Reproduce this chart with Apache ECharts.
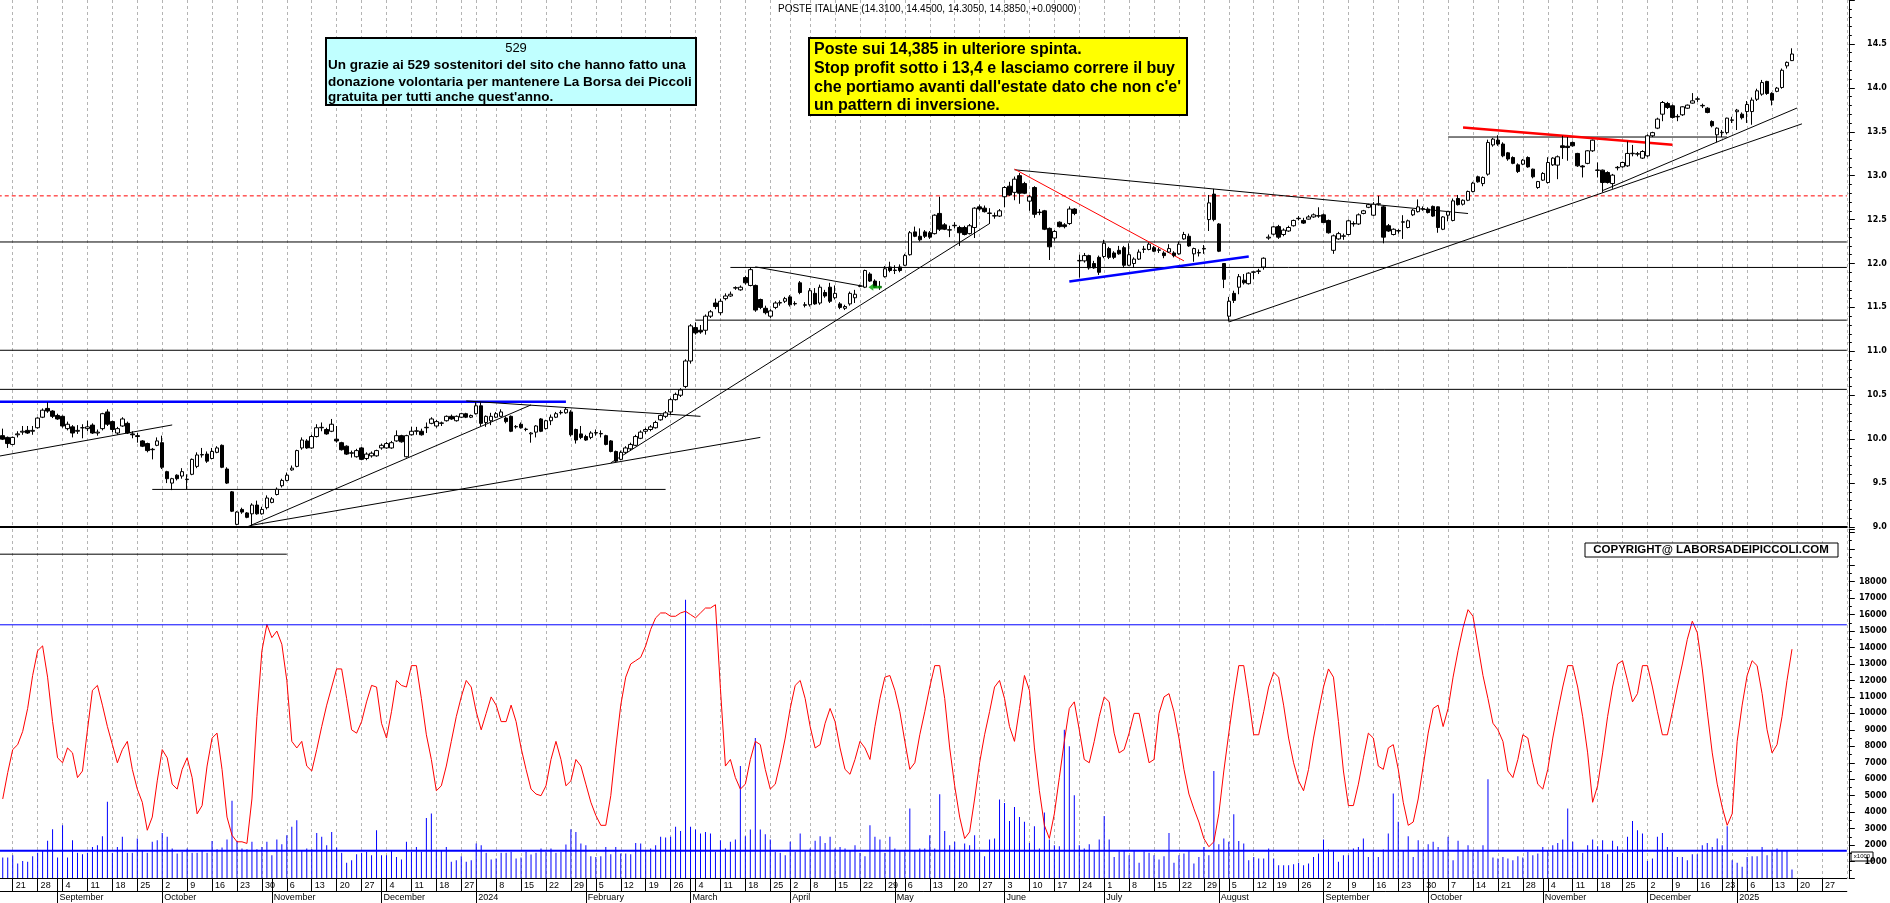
<!DOCTYPE html>
<html><head><meta charset="utf-8">
<script src="https://cdn.jsdelivr.net/npm/echarts@6/dist/echarts.min.js"></script>
<style>html,body{margin:0;padding:0;background:#fff;overflow:hidden}#c{width:1890px;height:903px}</style>
</head><body><div id="c"></div>
<script>
// ---------- calendar (trading days) ----------
const startDate = '2023-08-16';
const endDate = '2025-02-03';
const firstCandleDate = '2023-08-17';
const holidays = ['2023-12-25','2023-12-26','2024-01-01','2024-03-29','2024-04-01','2024-05-01','2024-08-15','2024-12-24','2024-12-25','2024-12-26','2024-12-31','2025-01-01'];
const hiddenWeekLabels = ['2024-01-02','2024-12-30','2025-02-03'];
const hiddenMonthLabels = ['2025-02-03'];
const monthNames = ['January','February','March','April','May','June','July','August','September','October','November','December'];

// ---------- daily candles [open, high, low, close] ----------
const candles = [
[10.04,10.12,9.99,10.00],[10.02,10.03,9.90,9.95],[9.94,10.03,9.93,10.02],[10.05,10.09,10.02,10.06],[10.08,10.15,10.05,10.09],
[10.10,10.15,10.06,10.07],[10.09,10.15,10.05,10.10],[10.13,10.25,10.12,10.24],[10.25,10.35,10.24,10.33],[10.35,10.42,10.30,10.32],
[10.32,10.33,10.24,10.26],[10.27,10.29,10.22,10.23],[10.26,10.27,10.13,10.15],[10.12,10.20,10.10,10.17],[10.14,10.16,10.02,10.07],
[10.09,10.16,10.06,10.10],[10.13,10.17,10.01,10.13],[10.12,10.21,10.09,10.14],[10.16,10.18,10.06,10.07],[10.07,10.11,10.04,10.08],
[10.12,10.30,10.10,10.29],[10.31,10.34,10.15,10.17],[10.20,10.21,10.08,10.11],[10.07,10.14,10.05,10.12],[10.15,10.25,10.14,10.23],
[10.18,10.20,10.06,10.07],[10.06,10.09,10.01,10.05],[10.04,10.07,9.96,10.03],[9.98,9.99,9.91,9.92],[9.95,9.96,9.85,9.87],
[9.88,9.90,9.77,9.885],[9.93,10.02,9.92,9.98],[9.96,10.04,9.66,9.68],[9.63,9.64,9.50,9.55],[9.50,9.56,9.42,9.55],
[9.59,9.60,9.53,9.55],[9.58,9.67,9.55,9.63],[9.54,9.60,9.43,9.545],[9.60,9.78,9.59,9.77],[9.69,9.85,9.67,9.82],
[9.82,9.90,9.79,9.825],[9.83,9.86,9.73,9.75],[9.78,9.90,9.77,9.86],[9.85,9.92,9.84,9.90],[9.93,9.94,9.67,9.68],
[9.66,9.68,9.49,9.50],[9.40,9.41,9.17,9.18],[9.03,9.18,9.02,9.17],[9.20,9.22,9.15,9.17],[9.16,9.17,9.10,9.11],
[9.15,9.27,9.01,9.25],[9.25,9.30,9.14,9.15],[9.15,9.23,9.14,9.20],[9.22,9.36,9.20,9.33],[9.28,9.34,9.27,9.32],
[9.37,9.45,9.36,9.43],[9.47,9.55,9.45,9.53],[9.53,9.62,9.52,9.59],[9.65,9.70,9.64,9.67],[9.69,9.88,9.68,9.87],
[9.90,10.02,9.88,9.99],[9.98,10.00,9.89,9.90],[9.90,10.05,9.89,10.03],[10.03,10.17,10.02,10.13],[10.13,10.19,10.09,10.135],
[10.11,10.13,10.05,10.06],[10.09,10.23,10.08,10.17],[10.00,10.15,9.96,9.98],[9.96,9.97,9.87,9.88],[9.92,9.93,9.82,9.83],
[9.84,9.87,9.79,9.845],[9.80,9.89,9.79,9.87],[9.90,9.91,9.76,9.77],[9.78,9.85,9.76,9.83],[9.81,9.86,9.79,9.84],
[9.81,9.88,9.80,9.87],[9.90,9.95,9.88,9.93],[9.90,9.97,9.89,9.95],[9.90,9.98,9.89,9.96],[9.98,10.10,9.97,10.04],
[10.04,10.05,9.96,9.97],[9.80,10.05,9.79,10.04],[10.05,10.14,10.04,10.09],[10.09,10.14,10.05,10.095],[10.09,10.12,10.04,10.05],
[10.13,10.19,10.07,10.135],[10.18,10.25,10.17,10.23],[10.15,10.22,10.13,10.20],[10.18,10.20,10.15,10.185],[10.21,10.27,10.20,10.26],
[10.26,10.28,10.22,10.23],[10.21,10.27,10.20,10.26],[10.25,10.30,10.24,10.29],[10.29,10.30,10.24,10.25],[10.25,10.28,10.24,10.27],
[10.29,10.42,10.28,10.38],[10.38,10.42,10.15,10.18],[10.19,10.27,10.14,10.26],[10.21,10.30,10.16,10.26],[10.25,10.31,10.24,10.29],
[10.26,10.34,10.25,10.31],[10.24,10.26,10.18,10.20],[10.26,10.27,10.08,10.09],[10.14,10.16,10.12,10.145],[10.17,10.19,10.12,10.13],
[10.11,10.13,10.09,10.115],[10.06,10.08,9.96,10.07],[10.08,10.16,10.02,10.15],[10.23,10.24,10.08,10.09],[10.12,10.22,10.11,10.21],
[10.21,10.28,10.16,10.25],[10.25,10.31,10.24,10.29],[10.30,10.33,10.28,10.305],[10.30,10.36,10.29,10.34],[10.31,10.33,10.03,10.05],
[10.11,10.12,9.95,9.99],[10.06,10.15,10.00,10.02],[10.03,10.05,9.98,9.99],[10.02,10.09,10.00,10.07],[10.07,10.11,10.04,10.075],
[10.06,10.10,10.02,10.065],[10.04,10.05,9.93,9.94],[9.98,9.99,9.85,9.86],[9.86,9.87,9.74,9.75],[9.77,9.87,9.76,9.85],
[9.85,9.92,9.83,9.90],[9.89,9.96,9.87,9.94],[9.93,10.05,9.92,10.03],[10.01,10.10,10.00,10.08],[10.09,10.13,10.06,10.11],
[10.11,10.16,10.09,10.14],[10.13,10.21,10.12,10.19],[10.22,10.28,10.21,10.27],[10.26,10.32,10.24,10.30],[10.31,10.47,10.28,10.45],
[10.45,10.53,10.44,10.51],[10.50,10.58,10.48,10.56],[10.60,10.91,10.58,10.89],[10.89,11.31,10.86,11.29],[11.27,11.33,11.19,11.21],
[11.24,11.30,11.20,11.22],[11.24,11.42,11.19,11.40],[11.40,11.47,11.38,11.45],[11.55,11.60,11.48,11.51],[11.44,11.60,11.41,11.57],
[11.60,11.66,11.58,11.63],[11.63,11.68,11.62,11.65],[11.72,11.74,11.70,11.725],[11.70,11.75,11.69,11.73],[11.84,11.86,11.76,11.78],
[11.75,11.96,11.74,11.93],[11.75,11.76,11.45,11.47],[11.59,11.60,11.48,11.50],[11.49,11.52,11.42,11.44],[11.40,11.48,11.38,11.46],
[11.50,11.57,11.48,11.55],[11.55,11.58,11.52,11.555],[11.57,11.62,11.55,11.60],[11.62,11.64,11.51,11.53],[11.54,11.57,11.52,11.545],
[11.78,11.80,11.65,11.67],[11.53,11.56,11.50,11.525],[11.53,11.72,11.51,11.69],[11.66,11.72,11.53,11.54],[11.55,11.76,11.53,11.73],
[11.67,11.70,11.61,11.63],[11.73,11.78,11.55,11.57],[11.61,11.75,11.59,11.66],[11.54,11.56,11.48,11.50],[11.49,11.53,11.47,11.51],
[11.54,11.68,11.52,11.66],[11.61,11.70,11.55,11.65],[11.74,11.76,11.73,11.745],[11.73,11.93,11.72,11.92],[11.88,11.90,11.79,11.80],
[11.80,11.82,11.72,11.73],[11.73,11.80,11.70,11.735],[11.85,11.97,11.84,11.94],[11.96,12.02,11.90,11.92],[11.92,11.98,11.88,11.925],
[11.96,11.99,11.90,11.92],[11.98,12.11,11.97,12.09],[12.10,12.37,12.09,12.35],[12.36,12.42,12.30,12.31],[12.31,12.40,12.25,12.27],
[12.36,12.38,12.29,12.31],[12.35,12.37,12.28,12.30],[12.34,12.56,12.33,12.55],[12.57,12.76,12.37,12.39],[12.44,12.46,12.38,12.39],
[12.38,12.43,12.30,12.385],[12.43,12.47,12.40,12.435],[12.41,12.43,12.20,12.35],[12.41,12.43,12.32,12.33],[12.34,12.45,12.33,12.43],
[12.41,12.64,12.29,12.63],[12.645,12.67,12.60,12.62],[12.63,12.66,12.58,12.59],[12.57,12.63,12.45,12.575],[12.54,12.58,12.51,12.545],
[12.54,12.62,12.53,12.60],[12.76,12.88,12.64,12.865],[12.88,12.93,12.77,12.78],[12.81,12.99,12.72,12.96],[13.00,13.03,12.68,12.80],
[12.91,12.93,12.79,12.80],[12.71,12.78,12.60,12.76],[12.865,12.88,12.52,12.56],[12.58,12.62,12.55,12.585],[12.60,12.61,12.38,12.39],
[12.40,12.41,12.04,12.19],[12.29,12.38,12.26,12.365],[12.47,12.48,12.41,12.42],[12.44,12.46,12.40,12.42],[12.455,12.65,12.44,12.62],
[12.62,12.63,12.55,12.57],[12.03,12.10,11.84,12.035],[12.03,12.12,12.01,12.09],[12.09,12.10,11.93,11.95],[12.00,12.03,11.94,11.95],
[12.07,12.09,11.87,11.90],[12.08,12.27,12.06,12.23],[12.17,12.19,12.05,12.07],[12.12,12.14,12.05,12.07],[12.15,12.20,12.10,12.11],
[12.18,12.20,11.95,11.98],[11.98,12.23,11.97,12.10],[12.00,12.07,11.95,12.05],[12.05,12.16,12.04,12.13],[12.16,12.20,12.12,12.165],
[12.16,12.24,12.15,12.22],[12.18,12.20,12.13,12.14],[12.15,12.18,12.12,12.155],[12.12,12.14,12.06,12.09],[12.13,12.22,12.12,12.17],
[12.12,12.14,12.07,12.09],[12.11,12.25,12.10,12.22],[12.28,12.36,12.27,12.33],[12.31,12.34,12.19,12.20],[12.11,12.18,12.02,12.17],
[12.12,12.16,12.08,12.125],[12.17,12.21,12.11,12.165],[12.50,12.78,12.37,12.69],[12.79,12.85,12.48,12.50],[12.45,12.46,12.13,12.14],
[12.00,12.00,11.72,11.82],[11.40,11.62,11.34,11.57],[11.66,11.69,11.55,11.58],[11.73,11.88,11.65,11.85],[11.81,11.88,11.76,11.78],
[11.77,11.90,11.76,11.89],[11.90,11.91,11.82,11.905],[11.91,11.94,11.88,11.915],[11.96,12.07,11.93,12.06],[12.29,12.33,12.27,12.30],
[12.334,12.43,12.32,12.417],[12.42,12.44,12.28,12.30],[12.33,12.40,12.31,12.38],[12.37,12.43,12.36,12.41],[12.43,12.50,12.42,12.49],
[12.51,12.54,12.49,12.515],[12.49,12.52,12.45,12.46],[12.505,12.55,12.50,12.53],[12.53,12.57,12.52,12.554],[12.54,12.64,12.52,12.545],
[12.554,12.57,12.46,12.466],[12.49,12.50,12.34,12.35],[12.15,12.33,12.11,12.315],[12.28,12.36,12.27,12.34],[12.31,12.34,12.27,12.315],
[12.33,12.50,12.32,12.486],[12.45,12.48,12.42,12.455],[12.45,12.57,12.44,12.554],[12.57,12.61,12.56,12.60],[12.64,12.68,12.63,12.67],
[12.55,12.70,12.54,12.675],[12.675,12.77,12.66,12.68],[12.645,12.66,12.23,12.30],[12.43,12.45,12.36,12.37],[12.33,12.40,12.32,12.39],
[12.37,12.39,12.34,12.375],[12.47,12.55,12.28,12.475],[12.41,12.50,12.40,12.486],[12.554,12.62,12.54,12.607],[12.59,12.73,12.58,12.645],
[12.62,12.65,12.60,12.625],[12.62,12.64,12.57,12.58],[12.65,12.66,12.53,12.54],[12.645,12.65,12.35,12.41],[12.39,12.54,12.38,12.53],
[12.55,12.60,12.48,12.59],[12.49,12.74,12.48,12.713],[12.74,12.78,12.66,12.67],[12.675,12.73,12.66,12.72],[12.72,12.83,12.71,12.82],
[12.82,12.93,12.81,12.915],[12.987,13.00,12.92,12.93],[12.91,12.99,12.88,12.98],[13.017,13.41,13.00,13.378],[13.35,13.43,13.33,13.416],
[13.405,13.46,13.34,13.36],[13.36,13.38,13.21,13.226],[13.26,13.27,13.17,13.19],[13.207,13.22,13.13,13.14],[13.123,13.14,13.03,13.047],
[13.131,13.19,13.12,13.177],[13.207,13.22,13.09,13.10],[13.074,13.08,12.97,12.987],[12.865,12.94,12.85,12.933],[12.949,13.04,12.94,13.025],
[12.922,13.21,12.91,13.15],[13.123,13.21,13.11,13.20],[13.12,13.23,12.96,13.215],[13.34,13.454,13.19,13.32],[13.335,13.44,13.17,13.32],
[13.378,13.39,13.33,13.34],[13.253,13.26,13.10,13.112],[13.11,13.12,12.98,13.10],[13.14,13.29,13.13,13.283],[13.283,13.41,13.27,13.404],
[13.06,13.15,12.98,13.065],[13.063,13.07,12.81,12.922],[13.036,13.05,12.91,12.922],[12.91,13.02,12.85,13.006],[13.09,13.11,13.06,13.095],
[13.101,13.16,13.09,13.15],[13.112,13.39,13.10,13.253],[13.25,13.35,13.22,13.255],[13.245,13.27,13.22,13.25],[13.20,13.29,13.19,13.275],
[13.226,13.47,13.21,13.454],[13.454,13.50,13.44,13.49],[13.541,13.66,13.53,13.644],[13.70,13.85,13.62,13.833],[13.822,13.84,13.76,13.776],
[13.796,13.81,13.65,13.663],[13.67,13.70,13.62,13.675],[13.693,13.79,13.68,13.784],[13.768,13.81,13.76,13.803],[13.826,13.94,13.82,13.852],
[13.87,13.90,13.84,13.875],[13.795,13.82,13.77,13.80],[13.768,13.78,13.71,13.72],[13.617,13.63,13.55,13.568],[13.465,13.55,13.38,13.541],
[13.49,13.52,13.44,13.495],[13.49,13.66,13.47,13.655],[13.63,13.67,13.60,13.635],[13.728,13.76,13.52,13.746],[13.70,13.72,13.64,13.66],
[13.73,13.85,13.60,13.81],[13.73,13.89,13.58,13.86],[13.87,13.99,13.85,13.966],[13.928,14.09,13.91,14.06],[14.073,14.08,13.92,13.936],
[13.936,13.95,13.80,13.86],[13.96,14.01,13.95,13.997],[14.004,14.22,13.99,14.20],[14.25,14.30,14.22,14.29],[14.31,14.45,14.305,14.385]
];

// ---------- daily volume (x1000 shares) ----------
const volumes = [
1240,1240,1380,880,1040,980,1320,1530,1690,2260, 2960,1240,3210,1240,2300,1530,1450,1530,1890,1990,
2540,4630,1530,1890,2500,1530,1530,2400,1690,1530, 2200,2300,2740,2500,1790,1490,1590,1790,1530,1530,
1650,1530,2240,1750,1850,2340,4690,2260,1790,1750, 2200,1750,1890,2200,1380,2340,2050,2600,3110,3510,
1690,1790,1750,2740,2500,1990,2800,1850,1530,920, 1080,1450,1530,1590,1380,2900,1380,1380,1690,1280,
1120,2200,1590,1890,1590,3650,3920,1690,1690,1890, 980,1080,1320,980,1080,2090,1990,1530,1120,1180,
1530,1530,1590,1180,1240,1590,1430,1530,1790,1590, 1790,1530,1590,2030,2960,2800,2090,1990,1320,1280,
1320,1890,1450,1890,1490,1490,1450,2130,2090,1650, 1790,1990,2500,2460,2500,3110,2860,16900,3110,2940,
2700,2800,2700,1590,2300,1790,2200,2340,6800,2540, 2940,8500,2940,2660,2340,1590,1530,1380,2200,1590,
2700,1690,1790,2260,2540,2130,2500,1790,1890,1790, 1650,1990,1530,1320,3210,2500,2340,1530,2500,1790,
1650,1690,4220,1690,1790,1790,2600,1790,5090,2860, 1990,2200,1690,2090,1990,2600,1590,1320,2340,2400,
4770,4560,3470,4320,3710,3410,2130,3150,1790,3980, 2340,1990,1930,9000,8000,5030,1990,1790,2050,1690,
2340,3770,2340,1280,1630,1690,1380,1690,920,1630, 1530,1380,1120,1320,2740,920,1380,1490,1650,880,
1280,1890,1380,6500,2050,2400,2200,3880,2240,2090, 1080,1280,1180,1180,1790,1180,780,780,780,840,
920,780,880,1280,1490,2340,1730,1630,980,1380, 1380,1790,1890,2400,1280,1590,1280,1730,2700,5130,
3410,1690,2540,1280,2300,1730,2050,2200,1890,1690, 2500,1080,2260,1650,1990,1690,1690,1990,6000,1240,
1180,1280,1180,1080,1320,1240,1590,1380,1490,1890, 1690,1990,2130,2340,4220,2200,1590,1530,1990,2340,
1930,2300,1450,2260,1930,1530,2500,3470,2900,2700, 1040,1180,2500,2740,1890,1590,1280,1280,1080,1450,
1450,1990,2130,1890,2400,1990,3150,1080,920,680, 1280,1320,1320,1890,1380,1690,1790,1690,1690,510
];

// ---------- red oscillator line (same x1000 scale) ----------
const oscillator = [
4800,6400,7800,8100,8900,10300,12300,13800,14100,12200, 9500,7300,7000,7900,7600,6100,6500,9000,11400,11700,
10500,9200,8100,7000,7800,8300,6600,5400,4600,2900, 3700,5900,7800,7300,5700,5400,6600,7300,6100,3900,
4400,6800,8500,8800,6600,3700,2600,2200,2200,2100, 4800,9800,13800,15400,14600,15000,14200,12000,8300,7900,
8300,6800,6500,7800,9200,10500,11600,12700,12700,10900, 9000,8800,9500,10700,11700,11600,9400,8500,10100,12000,
11700,11600,12900,12900,10900,8700,7200,5300,5600,6800, 8300,9800,11000,12000,11600,10100,9000,10000,11000,10500,
9500,9500,10500,9500,7900,6600,5400,5100,5000,5600, 7200,8300,7200,5600,5900,7200,6800,5700,4600,3800,
3200,3200,5000,7900,10500,12200,13000,13200,13400,14100, 15100,15800,16100,16100,15900,15900,16100,16200,16000,15800,
16100,16400,16400,16600,11500,6800,7200,6100,5400,5700, 7200,8300,8100,6600,5400,5700,7000,8500,10300,11700,
12000,10900,9200,7900,8100,9400,10300,9500,7900,6600, 6300,7200,8300,7900,7200,9200,10900,12200,12300,11400,
10100,8300,6600,7000,8700,10100,11600,12900,12900,10900, 7900,5600,3700,2400,2800,4800,7000,8700,10100,11600,
12000,10900,9200,8300,10300,12300,11400,7900,5300,3200, 2400,3900,6100,8300,10300,10700,9000,7200,7000,8300,
9800,11000,10700,8800,7600,7800,8800,10000,10000,8500, 7000,7200,10000,11000,11200,10100,8500,6600,5100,4200,
3400,2400,1900,2200,3900,6500,8800,11000,12900,12900, 10900,8700,8700,10100,11600,12500,12200,10500,8500,7000,
5900,5300,6600,8500,10100,11600,12700,12200,9500,6500, 4400,4400,5700,7300,8800,8500,6800,6600,7900,8100,
6600,4600,3200,3400,4800,6800,8800,10300,10500,9200, 10300,12200,13800,15200,16300,15900,14100,12300,10900,9400,
9000,8300,6500,6100,7200,8700,8500,7000,5700,5400, 6600,8500,10100,11600,12900,12900,11600,9800,7600,4600,
5600,7600,9800,11600,13000,13200,12000,10700,11200,12900, 12900,11600,10100,8700,8700,10100,11600,13000,14500,15600,
14900,12700,10100,7600,5700,4300,3200,3900,8300,10500, 12300,13200,12900,11200,9000,7600,8100,9800,12000,13900
];

// ---------- axis ticks ----------
const priceTicks = {min: 9, max: 15, step: 0.5};
const volumeTicks = {min: 0, max: 21200, step: 1000, lastLabel: 18000};

// ---------- drawn horizontal levels [startDate, endDate, price, color, width, dashed] ----------
const priceLevels = [
  ['2023-08-16','2025-02-03',12.77,'#ff0000',1,true],
  ['2023-08-16','2025-02-03',12.245,'#000000',1,false],
  ['2024-03-13','2025-02-03',11.955,'#000000',1,false],
  ['2024-03-04','2025-02-03',11.355,'#000000',1,false],
  ['2023-08-16','2025-02-03',11.012,'#000000',1,false],
  ['2023-08-16','2025-02-03',10.567,'#000000',1,false],
  ['2023-08-16','2024-01-26',10.427,'#0000ff',2.5,false],
  ['2023-09-28','2024-02-23',9.428,'#000000',1,false],
  ['2024-10-07','2024-12-27',13.44,'#000000',1,false]
];
// ---------- drawn trend lines [date1, price1, date2, price2, color, width] ----------
const trendLines = [
  ['2023-08-16',9.804,'2023-10-04',10.162,'#000000',1],
  ['2023-10-25',9.00,'2024-01-17',10.39,'#000000',1],
  ['2023-10-26',9.02,'2024-03-21',10.02,'#000000',1],
  ['2023-12-28',10.435,'2024-03-05',10.26,'#000000',1],
  ['2024-02-08',9.73,'2024-05-29',12.455,'#000000',1],
  ['2024-03-20',11.962,'2024-04-23',11.737,'#000000',1],
  ['2024-06-05',13.067,'2024-10-11',12.569,'#000000',1],
  ['2024-06-05',13.075,'2024-07-23',12.03,'#ff0000',1],
  ['2024-06-20',11.794,'2024-08-09',12.079,'#0000ff',2.5],
  ['2024-08-05',11.334,'2025-01-21',13.59,'#000000',1],
  ['2024-11-19',12.83,'2025-01-20',13.77,'#000000',1],
  ['2024-10-10',13.549,'2024-12-09',13.352,'#ff0000',2.5]
];
const volumeLevels = [
  ['2023-08-16','2025-02-03',15380,'#0000ff',1],
  ['2023-08-16','2025-02-03',1650,'#0000ff',2],
  ['2023-08-16','2023-11-06',19670,'#000000',1]
];
const arrowMark = ['2024-04-25', 11.73];

// ---------- build categories ----------
function tradingDays(){
  const out = [];
  const d = new Date(startDate + 'T00:00:00Z');
  const end = new Date(endDate + 'T00:00:00Z');
  while (d <= end) {
    const wd = d.getUTCDay();
    const s = d.toISOString().slice(0,10);
    if (wd !== 0 && wd !== 6 && holidays.indexOf(s) < 0) out.push(s);
    d.setUTCDate(d.getUTCDate() + 1);
  }
  return out;
}
const days = tradingDays();
const idx = s => days.indexOf(s);
const weekStart = new Set(), monthStart = new Set();
for (let k = 1; k < days.length; k++) {
  const a = new Date(days[k-1] + 'T00:00:00Z'), b = new Date(days[k] + 'T00:00:00Z');
  if (b.getUTCDay() <= a.getUTCDay() || (b - a) >= 7*864e5) weekStart.add(k);
  if (days[k].slice(5,7) !== days[k-1].slice(5,7)) monthStart.add(k);
}
const off = idx(firstCandleDate);
const candleData = days.map((_, k) => {
  const c = candles[k - off];
  return c ? [c[0], c[3], c[2], c[1]] : '-';
});
const volData = days.map((_, k) => (k >= off && volumes[k - off] !== undefined) ? volumes[k - off] : '-');
const oscData = days.map((_, k) => (k >= off && oscillator[k - off] !== undefined) ? oscillator[k - off] : '-');

const series = [];
series.push({
  type: 'candlestick', xAxisIndex: 0, yAxisIndex: 0, data: candleData, barWidth: 4, z: 5,
  itemStyle: {color: '#ffffff', color0: '#000000', borderColor: '#000000', borderColor0: '#000000', borderWidth: 1}
});
priceLevels.forEach(l => series.push({
  type: 'line', xAxisIndex: 0, yAxisIndex: 0, symbol: 'none', silent: true, z: 3,
  data: [[idx(l[0]), l[2]], [idx(l[1]), l[2]]],
  lineStyle: {color: l[3], width: l[4], type: l[5] ? [4,3] : 'solid'}
}));
trendLines.forEach(l => series.push({
  type: 'line', xAxisIndex: 0, yAxisIndex: 0, symbol: 'none', silent: true, z: 4,
  data: [[idx(l[0]), l[1]], [idx(l[2]), l[3]]],
  lineStyle: {color: l[4], width: l[5]}
}));
series.push({
  type: 'scatter', xAxisIndex: 0, yAxisIndex: 0, silent: true, z: 6,
  symbol: 'path://M0,5 L6,0 L6,3 L16,3 L16,7 L6,7 L6,10 Z', symbolSize: [13, 7],
  itemStyle: {color: '#00a000'}, data: [[idx(arrowMark[0]), arrowMark[1]]]
});
series.push({
  type: 'bar', xAxisIndex: 1, yAxisIndex: 1, data: volData, barWidth: 1, z: 3,
  itemStyle: {color: '#0000ff'}
});
series.push({
  type: 'line', xAxisIndex: 1, yAxisIndex: 1, data: oscData, symbol: 'none', z: 4,
  lineStyle: {color: '#ff0000', width: 1}
});
volumeLevels.forEach(l => series.push({
  type: 'line', xAxisIndex: 1, yAxisIndex: 1, symbol: 'none', silent: true, z: 5,
  data: [[idx(l[0]), l[2]], [idx(l[1]), l[2]]],
  lineStyle: {color: l[3], width: l[4]}
}));

const slot = 4.984;
const gridLeft = -2.25;
const gridWidth = (days.length - 1) * slot;
const gridLine = {show: true, interval: (i) => weekStart.has(i), lineStyle: {color: '#b4b4b4', type: [3,3], width: 1}};
const F = '"Liberation Sans", Arial, sans-serif';

const option = {
  animation: false,
  backgroundColor: '#ffffff',
  grid: [
    {left: gridLeft, top: 0, width: gridWidth, height: 527, outerBoundsMode: 'none', containLabel: false},
    {left: gridLeft, top: 529, width: gridWidth, height: 349, outerBoundsMode: 'none', containLabel: false}
  ],
  xAxis: [
    {type: 'category', gridIndex: 0, data: days, boundaryGap: false,
     axisLine: {show: true, lineStyle: {color: '#000', width: 2}}, axisTick: {show: false}, axisLabel: {show: false},
     splitLine: gridLine},
    {type: 'category', gridIndex: 1, data: days, boundaryGap: false,
     axisLine: {show: true, lineStyle: {color: '#000', width: 1}},
     axisTick: {show: true, interval: (i) => (weekStart.has(i) || monthStart.has(i)) && i < days.length - 1, length: 13, lineStyle: {color: '#000'}},
     axisLabel: {show: true, interval: (i) => weekStart.has(i) && hiddenWeekLabels.indexOf(days[i]) < 0,
       formatter: (v) => String(+v.slice(8,10)), align: 'left', padding: [0,0,0,3], margin: 3,
       fontSize: 9, fontFamily: F, color: '#000'},
     splitLine: gridLine},
    {type: 'category', gridIndex: 1, data: days, boundaryGap: false, position: 'bottom', offset: 13,
     axisLine: {show: true, lineStyle: {color: '#000', width: 1}},
     axisTick: {show: true, interval: (i) => monthStart.has(i) && i < days.length - 1, length: 12, lineStyle: {color: '#000'}},
     axisLabel: {show: true, interval: (i) => monthStart.has(i) && hiddenMonthLabels.indexOf(days[i]) < 0,
       formatter: (v) => { const m = +v.slice(5,7); return m === 1 ? v.slice(0,4) : monthNames[m-1]; },
       align: 'left', padding: [0,0,0,2], margin: 2, fontSize: 9, fontFamily: F, color: '#000'},
     splitLine: {show: false}}
  ],
  yAxis: [
    {type: 'value', gridIndex: 0, position: 'right', offset: 2, min: priceTicks.min, max: priceTicks.max, interval: priceTicks.step,
     axisLine: {show: true, lineStyle: {color: '#000'}},
     axisTick: {show: true, length: 6, lineStyle: {color: '#000'}},
     minorTick: {show: true, splitNumber: 5, length: 3, lineStyle: {color: '#000'}},
     splitLine: {show: false},
     axisLabel: {formatter: (v) => v >= priceTicks.max ? '' : v.toFixed(1), align: 'right', margin: 38,
       fontSize: 8, fontWeight: 'bold', fontFamily: '"DejaVu Sans", sans-serif', color: '#000'}},
    {type: 'value', gridIndex: 1, position: 'right', offset: 2, min: volumeTicks.min, max: volumeTicks.max, interval: volumeTicks.step,
     axisLine: {show: true, lineStyle: {color: '#000'}},
     axisTick: {show: true, length: 6, lineStyle: {color: '#000'}},
     minorTick: {show: true, splitNumber: 2, length: 3, lineStyle: {color: '#000'}},
     splitLine: {show: false},
     axisLabel: {formatter: (v) => (v > 0 && v <= volumeTicks.lastLabel) ? String(v) : '', align: 'right', margin: 38,
       fontSize: 8, fontWeight: 'bold', fontFamily: '"DejaVu Sans", sans-serif', color: '#000'}}
  ],
  graphic: {elements: [
    {type: 'text', x: 778, y: 9, z: 50, style: {text: 'POSTE ITALIANE (14.3100, 14.4500, 14.3050, 14.3850, +0.09000)', font: '10px ' + F, fill: '#000', verticalAlign: 'middle'}},
    {type: 'rect', z: 50, shape: {x: 326, y: 38, width: 370, height: 67}, style: {fill: '#c0ffff', stroke: '#000', lineWidth: 2}},
    {type: 'text', z: 51, x: 516, y: 48, style: {text: '529', font: '13px ' + F, fill: '#000', align: 'center', verticalAlign: 'middle'}},
    {type: 'text', z: 51, x: 328, y: 65, style: {text: 'Un grazie ai 529 sostenitori del sito che hanno fatto una', font: 'bold 13.5px ' + F, fill: '#000', verticalAlign: 'middle'}},
    {type: 'text', z: 51, x: 328, y: 82, style: {text: 'donazione volontaria per mantenere La Borsa dei Piccoli', font: 'bold 13.5px ' + F, fill: '#000', verticalAlign: 'middle'}},
    {type: 'text', z: 51, x: 328, y: 97.5, style: {text: "gratuita per tutti anche quest'anno.", font: 'bold 13.5px ' + F, fill: '#000', verticalAlign: 'middle'}},
    {type: 'rect', z: 50, shape: {x: 809, y: 38, width: 378, height: 77}, style: {fill: '#ffff00', stroke: '#000', lineWidth: 2}},
    {type: 'text', z: 51, x: 814, y: 49.5, style: {text: 'Poste sui 14,385 in ulteriore spinta.', font: 'bold 16px ' + F, fill: '#000', verticalAlign: 'middle'}},
    {type: 'text', z: 51, x: 814, y: 68.5, style: {text: 'Stop profit sotto i 13,4 e lasciamo correre il buy', font: 'bold 16px ' + F, fill: '#000', verticalAlign: 'middle'}},
    {type: 'text', z: 51, x: 814, y: 87.5, style: {text: "che portiamo avanti dall'estate dato che non c'e'", font: 'bold 16px ' + F, fill: '#000', verticalAlign: 'middle'}},
    {type: 'text', z: 51, x: 814, y: 106, style: {text: 'un pattern di inversione.', font: 'bold 16px ' + F, fill: '#000', verticalAlign: 'middle'}},
    {type: 'rect', z: 50, shape: {x: 1585, y: 543, width: 253, height: 14}, style: {fill: '#fff', stroke: '#000', lineWidth: 1}},
    {type: 'text', z: 51, x: 1711, y: 550, style: {text: 'COPYRIGHT@ LABORSADEIPICCOLI.COM', font: 'bold 11.5px ' + F, fill: '#000', align: 'center', verticalAlign: 'middle'}},
    {type: 'rect', z: 1, shape: {x: 1851, y: 852, width: 22, height: 9}, style: {fill: 'none', stroke: '#000', lineWidth: 1}},
    {type: 'text', z: 1, x: 1862, y: 856.5, style: {text: 'x1000', font: '6px ' + F, fill: '#000', align: 'center', verticalAlign: 'middle'}}
  ]},
  series: series
};
const chart = echarts.init(document.getElementById('c'), null, {renderer: 'canvas', width: 1890, height: 903});
chart.setOption(option);
</script>
</body></html>
